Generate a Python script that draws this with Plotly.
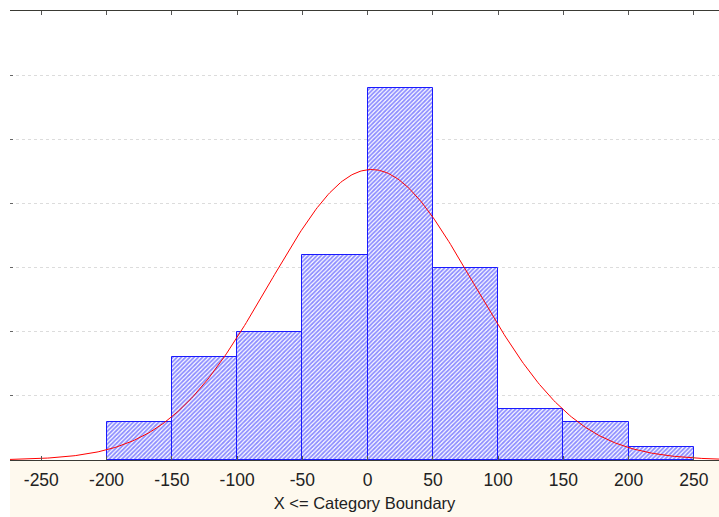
import numpy as np
import plotly.graph_objects as go

# Histogram categories (upper boundaries, X <= boundary) and counts
bin_upper = [-150, -100, -50, 0, 50, 100, 150, 200, 250]
bin_width = 50
counts = [3, 8, 10, 16, 29, 15, 4, 3, 1]

# Fitted normal distribution parameters
fit_mean = 3.0
fit_sd = 78.4

x_ticks = [-250, -200, -150, -100, -50, 0, 50, 100, 150, 200, 250]
x_range = [-274, 269.2]
y_range = [0, 35]

n_total = sum(counts)
centers = [u - bin_width / 2 for u in bin_upper]

xs = np.linspace(x_range[0], x_range[1], 400)
ys = n_total * bin_width / (fit_sd * np.sqrt(2 * np.pi)) * np.exp(-0.5 * ((xs - fit_mean) / fit_sd) ** 2)

fig = go.Figure()
fig.add_trace(go.Bar(
    x=centers, y=counts, width=bin_width,
    marker=dict(
        color="white",
        line=dict(color="#1a1aff", width=1),
        pattern=dict(shape="/", fgcolor="#1a1aff", bgcolor="white", size=3, solidity=0.6),
    ),
    hoverinfo="skip",
))
fig.add_trace(go.Scatter(
    x=xs, y=ys, mode="lines",
    line=dict(color="#ff0000", width=1),
    hoverinfo="skip",
))

fig.add_shape(
    type="rect", xref="paper", yref="paper",
    x0=0, x1=1, y0=-57 / 449, y1=0,
    fillcolor="#fef9ee", line=dict(width=0), layer="below",
)

fig.update_layout(
    width=719, height=517,
    margin=dict(l=10, r=0, t=11, b=57),
    paper_bgcolor="white", plot_bgcolor="white",
    showlegend=False, bargap=0,
    font=dict(family="Liberation Sans, Arial, sans-serif", size=16, color="#222222"),
)
fig.update_xaxes(
    range=x_range, tickvals=x_ticks, ticktext=[str(t) for t in x_ticks],
    showgrid=False, zeroline=False,
    showline=True, linecolor="#3a3a34", linewidth=1, mirror="ticks",
    ticks="inside", ticklen=4, tickcolor="#555555",
    ticklabelstandoff=4,
    title=dict(text="X <= Category Boundary", standoff=8, font=dict(size=16.5)),
    tickfont=dict(size=17.5),
)
fig.update_yaxes(
    range=y_range, dtick=5, showticklabels=False,
    showgrid=True, gridcolor="#dcdcdc", griddash="dot", gridwidth=1,
    zeroline=False, showline=False,
    ticks="inside", ticklen=3, tickcolor="#666666",
)

fig.write_html("out.html")
